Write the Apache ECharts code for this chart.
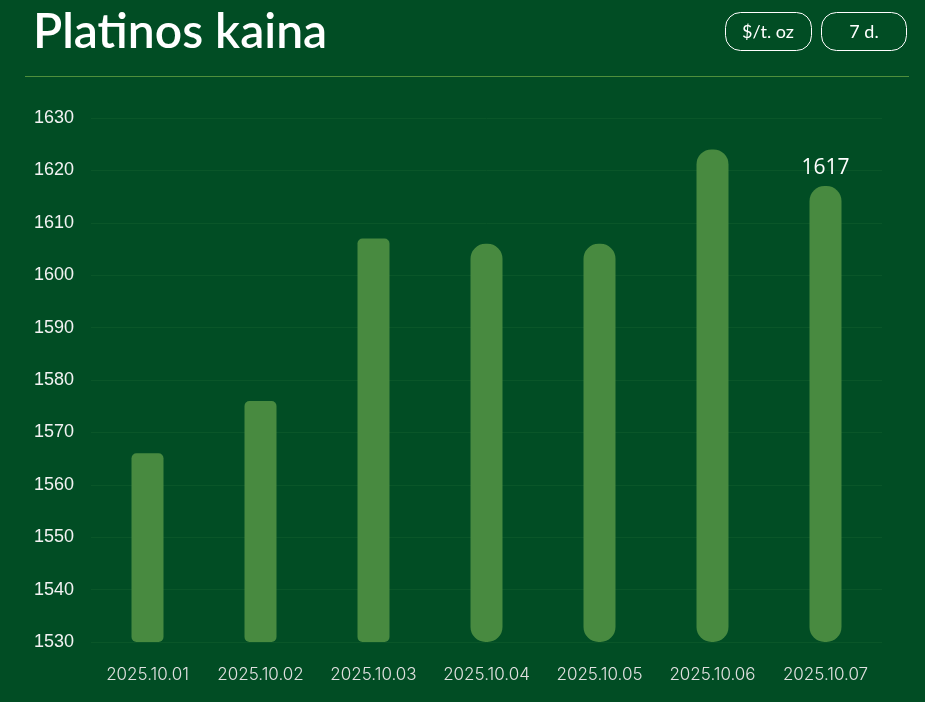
<!DOCTYPE html>
<html><head><meta charset="utf-8">
<script src="https://cdn.jsdelivr.net/npm/echarts@6/dist/echarts.min.js"></script>
<style>html,body{margin:0;padding:0;background:#014d24;}#c{width:925px;height:702px;}</style>
</head><body><div id="c"></div>
<script>
var categories = ['2025.10.01','2025.10.02','2025.10.03','2025.10.04','2025.10.05','2025.10.06','2025.10.07'];
var prices = [1566, 1576, 1607, 1606, 1606, 1624, 1617];
var smallR = [5,5,5,15,15,15,15];
var titleText = 'Platinos kaina';
var unitText = '$/t. oz';
var periodText = '7 d.';

var chart = echarts.init(document.getElementById('c'));
var data = prices.map(function(v,i){
  var o = {value:v, itemStyle:{borderRadius: smallR[i]}};
  if (i === prices.length-1) o.label = {show:true};
  return o;
});
chart.setOption({
  backgroundColor:'#014d24',
  animation:false,
  title:{text:titleText,left:28,top:4,textStyle:{color:'#ffffff',fontSize:48,fontWeight:600,fontFamily:'Lato'}},
  graphic:[
    {type:'line',shape:{x1:25,y1:76.5,x2:909,y2:76.5},style:{stroke:'#4f8f3c',lineWidth:1}},
    {type:'rect',shape:{x:725.5,y:12.5,width:86,height:38,r:15},style:{fill:'none',stroke:'#ffffff',lineWidth:1}},
    {type:'text',x:768,y:32,style:{text:unitText,fill:'#ffffff',font:'18px Lato',align:'center',verticalAlign:'middle'}},
    {type:'rect',shape:{x:821.5,y:12.5,width:85,height:38,r:15},style:{fill:'none',stroke:'#ffffff',lineWidth:1}},
    {type:'text',x:864,y:32,style:{text:periodText,fill:'#ffffff',font:'18px Lato',align:'center',verticalAlign:'middle'}}
  ],
  grid:{left:91,right:43,top:118,bottom:60,containLabel:false},
  xAxis:{type:'category',data:categories,
    axisLine:{show:false},axisTick:{show:false},
    axisLabel:{interval:0,hideOverlap:false,color:'#e0e0e0',fontSize:17,fontWeight:300,fontFamily:'Inter',margin:24}},
  yAxis:{type:'value',min:1530,max:1630,interval:10,
    axisLine:{show:false},axisTick:{show:false},
    splitLine:{lineStyle:{color:'#0a5629',width:1}},
    axisLabel:{color:'#f2f2f2',fontSize:18,fontFamily:'Liberation Sans',margin:17,
      formatter:function(v){return String(v);}}},
  series:[{type:'bar',data:data,barWidth:32,
    itemStyle:{color:'#488a40'},
    label:{show:false,position:'top',distance:8,color:'#ffffff',fontSize:21,fontFamily:'Open Sans'}}]
});
</script></body></html>
